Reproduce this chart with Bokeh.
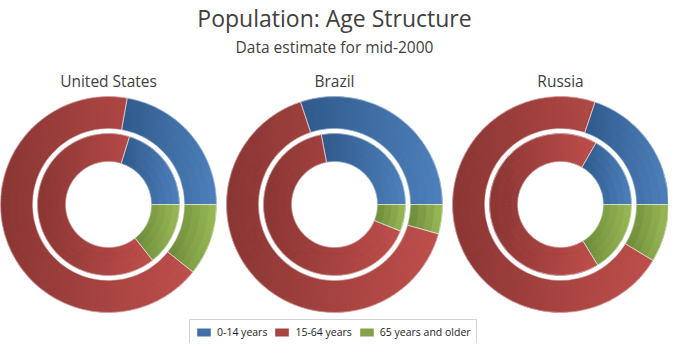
import math
from bokeh.plotting import figure
from bokeh.models import ColumnDataSource, Range1d, Label, Legend, LegendItem
from bokeh.embed import file_html
from bokeh.resources import INLINE

# ---------------- data (millions of people, mid-2000 estimate) ----------------
age_groups = ["0-14 years", "15-64 years", "65 years and older"]
countries = ["United States", "Brazil", "Russia"]
# outer ring = male, inner ring = female
us_male = [29.96, 90.35, 14.47]
us_female = [28.60, 92.50, 20.30]
brazil_male = [25.61, 55.79, 3.73]
brazil_female = [24.30, 57.30, 5.30]
russia_male = [13.50, 48.70, 5.90]
russia_female = [12.97, 52.10, 12.60]
outer_values = [us_male, brazil_male, russia_male]
inner_values = [us_female, brazil_female, russia_female]

# colours: (dark left, light right) of the horizontal gradient, and mid colour
grad_dark = ["#30598A", "#8A3634", "#6A8838"]
grad_light = ["#4F81BD", "#C0504D", "#9BBB59"]
mid_colors = ["#4070A6", "#A64442", "#84A24A"]

W, H = 668, 343
p = figure(width=W, height=H, x_range=Range1d(0, W), y_range=Range1d(0, H),
           output_backend="svg", toolbar_location=None, min_border=0,
           x_axis_type=None, y_axis_type=None)
p.grid.visible = False
p.outline_line_color = None
p.background_fill_color = "white"


def ty(y):
    # pixels from the top -> data y
    return H - y


centers_x = [108, 334, 560]
center_y = ty(204)
R_HOLE, R_IN_OUT, R_OUT_IN, R_OUT = 43, 71, 76, 108
rings = [(outer_values, R_OUT_IN, R_OUT), (inner_values, R_HOLE, R_IN_OUT)]


def hex2rgb(h):
    h = h.lstrip("#")
    return [int(h[i:i + 2], 16) for i in (0, 2, 4)]


def mix(c1, c2, t):
    a, b = hex2rgb(c1), hex2rgb(c2)
    return "#%02x%02x%02x" % tuple(int(round(a[i] + (b[i] - a[i]) * t)) for i in range(3))


base = {g: dict(x=[], y=[], ir=[], orr=[], sa=[], ea=[]) for g in range(3)}
pieces = dict(x=[], y=[], ir=[], orr=[], sa=[], ea=[], c=[])

for ci, cx in enumerate(centers_x):
    for values, r0, r1 in rings:
        vals = values[ci]
        tot = sum(vals)
        a = 0.0
        for g, v in enumerate(vals):
            span = 2 * math.pi * v / tot
            s, e = a, a + span
            a = e
            for k, val in (("x", cx), ("y", center_y), ("ir", r0), ("orr", r1), ("sa", s), ("ea", e)):
                base[g][k].append(val)
            # x extent of this sector for the gradient
            samp = [s + (e - s) * i / 200 for i in range(201)]
            xs = [cx + r * math.cos(t) for t in samp for r in (r0, r1)]
            xmin, xmax = min(xs), max(xs)
            na = max(2, int(math.ceil(span / math.radians(1.5))))
            nr = 4
            for i in range(na):
                ps = s + span * i / na
                pe = s + span * (i + 1) / na
                pm = (ps + pe) / 2
                for j in range(nr):
                    ri = r0 + (r1 - r0) * j / nr
                    ro = r0 + (r1 - r0) * (j + 1) / nr
                    xm = cx + (ri + ro) / 2 * math.cos(pm)
                    t = (xm - xmin) / (xmax - xmin) if xmax > xmin else 0.5
                    pieces["x"].append(cx)
                    pieces["y"].append(center_y)
                    pieces["ir"].append(ri)
                    pieces["orr"].append(ro)
                    pieces["sa"].append(ps)
                    pieces["ea"].append(pe)
                    pieces["c"].append(mix(grad_dark[g], grad_light[g], t))

legend_items = []
for g in range(3):
    r = p.annular_wedge(x="x", y="y", inner_radius="ir", outer_radius="orr",
                        start_angle="sa", end_angle="ea", source=ColumnDataSource(base[g]),
                        fill_color=mid_colors[g], line_color=None)
    legend_items.append(LegendItem(label=age_groups[g], renderers=[r]))

p.annular_wedge(x="x", y="y", inner_radius="ir", outer_radius="orr",
                start_angle="sa", end_angle="ea", source=ColumnDataSource(pieces),
                fill_color="c", line_color="c", line_width=0.4)

for g in range(3):
    p.annular_wedge(x="x", y="y", inner_radius="ir", outer_radius="orr",
                    start_angle="sa", end_angle="ea", source=ColumnDataSource(base[g]),
                    fill_color=None, line_color="white", line_alpha=0.55, line_width=0.8)

FONT = "Open Sans"
p.add_layout(Label(x=334, y=ty(17), text="Population: Age Structure", text_align="center",
                   text_baseline="alphabetic", text_font=FONT, text_font_size="23px",
                   text_color="#404040"))
p.add_layout(Label(x=334, y=ty(46), text="Data estimate for mid-2000", text_align="center",
                   text_baseline="alphabetic", text_font=FONT, text_font_size="15.5px",
                   text_color="#404040"))
for ci, name in enumerate(countries):
    p.add_layout(Label(x=centers_x[ci], y=ty(80), text=name, text_align="center",
                       text_baseline="alphabetic", text_font=FONT, text_font_size="15.5px",
                       text_color="#404040"))

legend = Legend(items=legend_items, orientation="horizontal", location=(189, -2),
                label_text_font=FONT, label_text_font_size="10.5px", label_text_color="#222222",
                glyph_width=17, glyph_height=10, label_height=13, label_standoff=5, spacing=6,
                padding=5, margin=0, border_line_color="#A8A8A8", border_line_width=1,
                background_fill_color="white", background_fill_alpha=1)
p.add_layout(legend)

open("out.html", "w").write(file_html(p, INLINE))
